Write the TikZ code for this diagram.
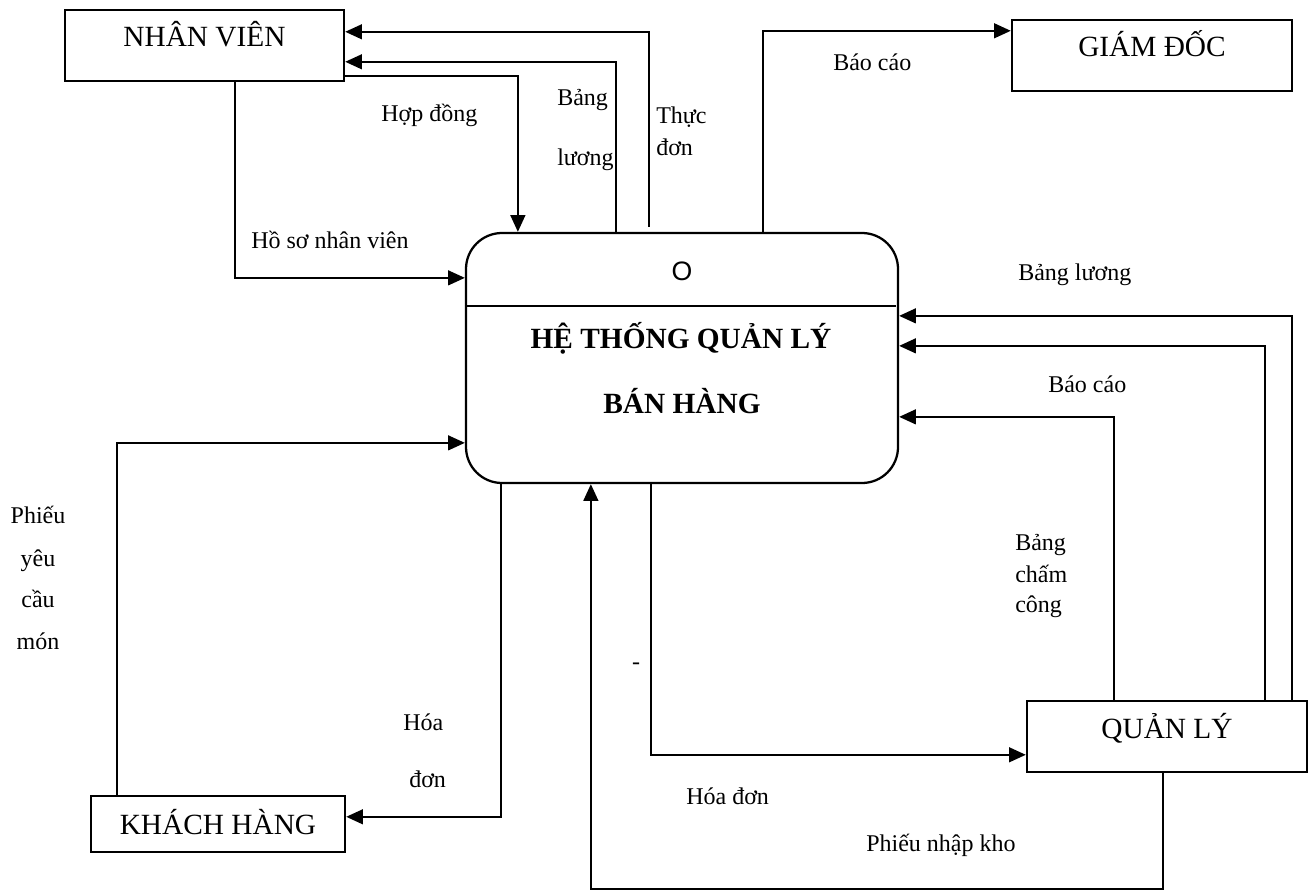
\documentclass[tikz,border=0pt]{standalone}
\usepackage{fontspec}
\setmainfont{Liberation Serif}
\newfontfamily\sansO{Liberation Sans}
\usetikzlibrary{arrows.meta,calc}
\tikzset{
  ent/.style={draw, line width=1.8pt, inner sep=0pt,
    font=\fontsize{22}{26}\selectfont, text height=16pt, text depth=13.75pt},
  lbl/.style={inner sep=0pt, anchor=base west, font=\fontsize{18}{22}\selectfont},
  lblc/.style={inner sep=0pt, anchor=base, font=\fontsize{18}{22}\selectfont},
  arr/.style={line width=1.6pt, -{Triangle[length=12.5pt,width=11pt]}},
  titl/.style={inner sep=0pt, anchor=base, font=\fontsize{22}{26}\selectfont\bfseries}
}
\begin{document}
\begin{tikzpicture}[x=0.75pt,y=-0.75pt]
\useasboundingbox (0,0) rectangle (1316,891);

% entities
\node[ent, minimum width=209.25pt, minimum height=53.25pt] (nv) at (204.5,45.5) {NHÂN VIÊN};
\node[ent, minimum width=210pt, minimum height=53.25pt] (gd) at (1152,55.5) {GIÁM ĐỐC};
\node[ent, minimum width=210pt, minimum height=53.25pt] (ql) at (1167,736.5) {QUẢN LÝ};
\node[ent, minimum width=190.5pt, minimum height=42pt, text depth=1pt] (kh) at (218,824) {KHÁCH HÀNG};

% central process
\node[draw, line width=1.7pt, rounded corners=27pt, minimum width=324pt, minimum height=187.5pt, inner sep=0pt] (cen) at (682,358) {};
\draw[line width=1.4pt] ($(cen.north west)+(0,74)$) coordinate (dl) -- ($(cen.north east)+(-3,74)$) coordinate (dr);
\node[inner sep=0pt, anchor=base, font=\sansO\fontsize{20}{24}\selectfont] (pid) at (682,281) {O};
\node[titl] (t1) at (681,348) {HỆ THỐNG QUẢN LÝ};
\node[titl] (t2) at (682,413) {BÁN HÀNG};

% connectors
\draw[arr] ($(cen.north west)+(184,-5)$) |- ($(nv.north east)+(0,23)$);
\draw[arr] ($(cen.north west)+(151,0)$) |- ($(nv.north east)+(0,53)$);
\draw[arr] ($(nv.north east)+(0,67)$) -| ($(cen.north west)+(53,0)$);
\draw[arr] ($(nv.south west)+(171,0)$) |- ($(cen.north west)+(0,46)$);
\draw[arr] ($(cen.north west)+(298,0)$) |- ($(gd.north west)+(0,12)$);
\draw[arr] ($(ql.north west)+(266,0)$) |- ($(cen.north east)+(0,84)$);
\draw[arr] ($(ql.north west)+(239,0)$) |- ($(cen.north east)+(0,114)$);
\draw[arr] ($(ql.north west)+(88,0)$) |- ($(cen.north east)+(0,185)$);
\draw[arr] ($(cen.south west)+(186,0)$) |- ($(ql.north west)+(0,55)$);
\draw[arr] ($(ql.south west)+(137,0)$) -- ($(ql.south west)+(137,116)$) -| ($(cen.south west)+(126,0)$);
\draw[arr] ($(kh.north west)+(27,0)$) |- ($(cen.north west)+(0,211)$);
\draw[arr] ($(cen.south west)+(36,0)$) |- ($(kh.north east)+(0,22)$);

% labels
\node[lbl] (l1) at (381,122) {Hợp đồng};
\node[lbl] (l2a) at (557,106) {Bảng};
\node[lbl] (l2b) at (557,166) {lương};
\node[lbl] (l3a) at (656,124) {Thực};
\node[lbl] (l3b) at (656,156) {đơn};
\node[lbl] (l4) at (251,248) {Hồ sơ nhân viên};
\node[lbl] (l5) at (833,71) {Báo cáo};
\node[lbl] (l6) at (1018,280) {Bảng lương};
\node[lbl] (l7) at (1048,392) {Báo cáo};
\node[lbl] (l8a) at (1015,550) {Bảng};
\node[lbl] (l8b) at (1015,582) {chấm};
\node[lbl] (l8c) at (1015,612) {công};
\node[lblc] (l9a) at (38,523) {Phiếu};
\node[lblc] (l9b) at (38,566) {yêu};
\node[lblc] (l9c) at (38,607) {cầu};
\node[lblc] (l9d) at (38,649) {món};
\node[lbl] (l10a) at (403,730) {Hóa};
\node[lbl] (l10b) at (409,787) {đơn};
\node[lblc] (dash) at (636,669) {-};
\node[lbl] (l11) at (686,804) {Hóa đơn};
\node[lbl] (l12) at (866,851) {Phiếu nhập kho};
\end{tikzpicture}
\end{document}
